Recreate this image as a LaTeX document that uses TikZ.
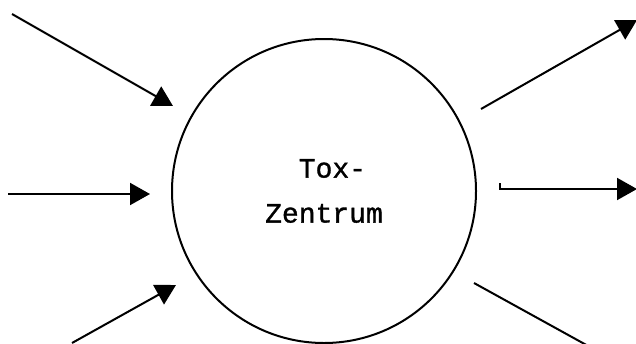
\documentclass[tikz,border=0pt]{standalone}
\usepackage{fontspec}
\setmonofont[FakeBold=1.2]{Liberation Mono}
\usetikzlibrary{arrows.meta}
\tikzset{
  ring/.style={draw, circle, line width=2pt, minimum size=304pt, inner sep=0pt, align=left, font=\ttfamily\fontsize{28}{45}\selectfont},
  feed/.style={draw, line width=2pt, -{Triangle[length=20pt,width=22pt]}},
  drain/.style={draw, line width=2pt},
}

\begin{document}
\begin{tikzpicture}[x=1pt, y=-1pt]
\useasboundingbox (0,0) rectangle (636,343);
\node[ring] (tox) at (324,191) {\phantom{Ze}Tox-\\Zentrum};
\coordinate (in1a) at (12,14);
\coordinate (in1b) at (173,106);
\coordinate (in2a) at (8,194);
\coordinate (in2b) at (150,194);
\coordinate (in3a) at (72,343);
\coordinate (in3b) at (176,285);
\coordinate (out1a) at (481,109);
\coordinate (out1b) at (637,20);
\coordinate (out2a) at (500,183);
\coordinate (out2b) at (637,189);
\coordinate (out3a) at (474,283);
\coordinate (out3b) at (590,347);
\draw[feed] (in1a) -- (in1b);
\draw[feed] (in2a) -- (in2b);
\draw[feed] (in3a) -- (in3b);
\draw[feed] (out1a) -- (out1b);
\draw[feed] (out2a) |- (out2b);
\draw[drain] (out3a) -- (out3b);
\end{tikzpicture}
\end{document}
